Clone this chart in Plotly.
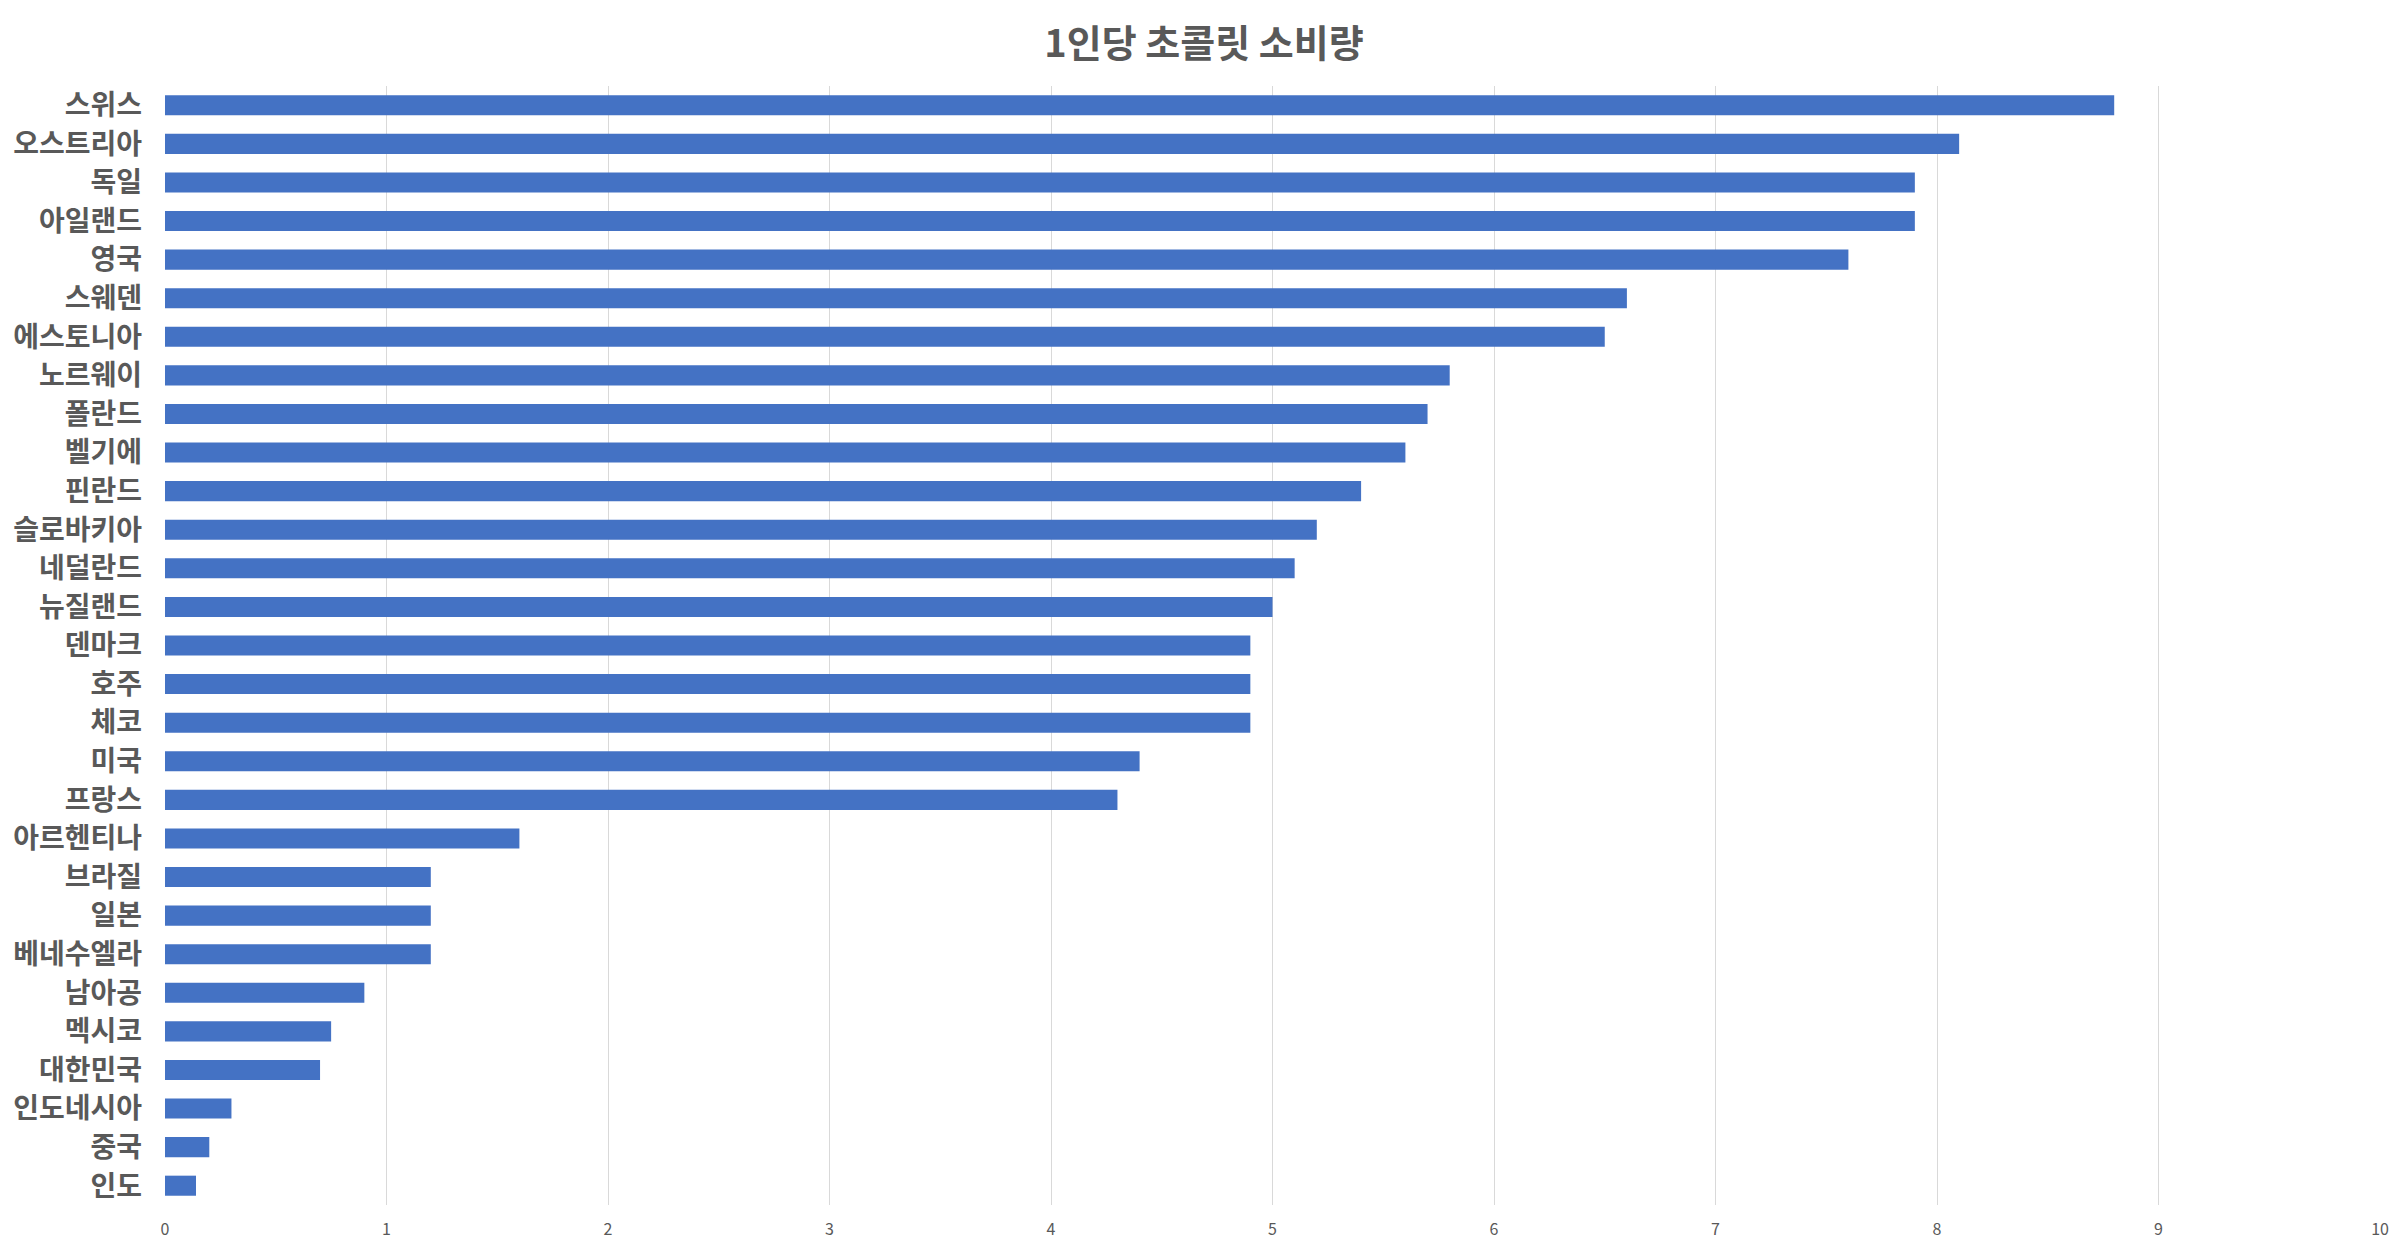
import plotly.graph_objects as go

countries = ["스위스", "오스트리아", "독일", "아일랜드", "영국", "스웨덴", "에스토니아", "노르웨이",
             "폴란드", "벨기에", "핀란드", "슬로바키아", "네덜란드", "뉴질랜드", "덴마크", "호주",
             "체코", "미국", "프랑스", "아르헨티나", "브라질", "일본", "베네수엘라", "남아공",
             "멕시코", "대한민국", "인도네시아", "중국", "인도"]
consumption = [8.8, 8.1, 7.9, 7.9, 7.6, 6.6, 6.5, 5.8,
               5.7, 5.6, 5.4, 5.2, 5.1, 5.0, 4.9, 4.9,
               4.9, 4.4, 4.3, 1.6, 1.2, 1.2, 1.2, 0.9,
               0.75, 0.7, 0.3, 0.2, 0.14]
x_ticks = [0, 1, 2, 3, 4, 5, 6, 7, 8, 9, 10]
title_text = "1인당 초콜릿 소비량"

FONT = "Noto Sans CJK KR"
GRAY = "#595959"

fig = go.Figure(go.Bar(
    x=consumption,
    y=countries,
    orientation="h",
    marker=dict(color="#4472C4", line=dict(width=0)),
    hoverinfo="x+y",
))

fig.update_layout(
    width=2408,
    height=1252,
    autosize=False,
    paper_bgcolor="white",
    plot_bgcolor="white",
    margin=dict(l=165, r=28, t=86, b=43, pad=0),
    bargap=0.48,
    showlegend=False,
    title=dict(
        text="<b>" + title_text + "</b>",
        font=dict(family=FONT, size=38, color=GRAY),
        x=0.5, xref="container", xanchor="center",
        y=1 - 44 / 1252, yref="container", yanchor="middle",
    ),
    font=dict(family=FONT, color=GRAY),
)

fig.update_xaxes(
    range=[0, 10],
    tickvals=x_ticks,
    ticktext=[str(v) for v in x_ticks],
    showgrid=True,
    gridcolor="#d9d9d9",
    gridwidth=1.3,
    zeroline=False,
    showline=False,
    ticks="",
    tickfont=dict(family=FONT, size=16, color=GRAY),
    ticklabelstandoff=13,
    fixedrange=True,
)

fig.update_yaxes(
    autorange="reversed",
    showgrid=False,
    zeroline=False,
    showline=False,
    ticks="",
    tickfont=dict(family=FONT, size=28, color=GRAY, weight="bold"),
    ticklabelstandoff=22,
    fixedrange=True,
)

fig.write_html(
    "out.html",
    config={"displayModeBar": False},
    post_script="document.body.style.margin='0';document.body.style.overflow='hidden';",
)
